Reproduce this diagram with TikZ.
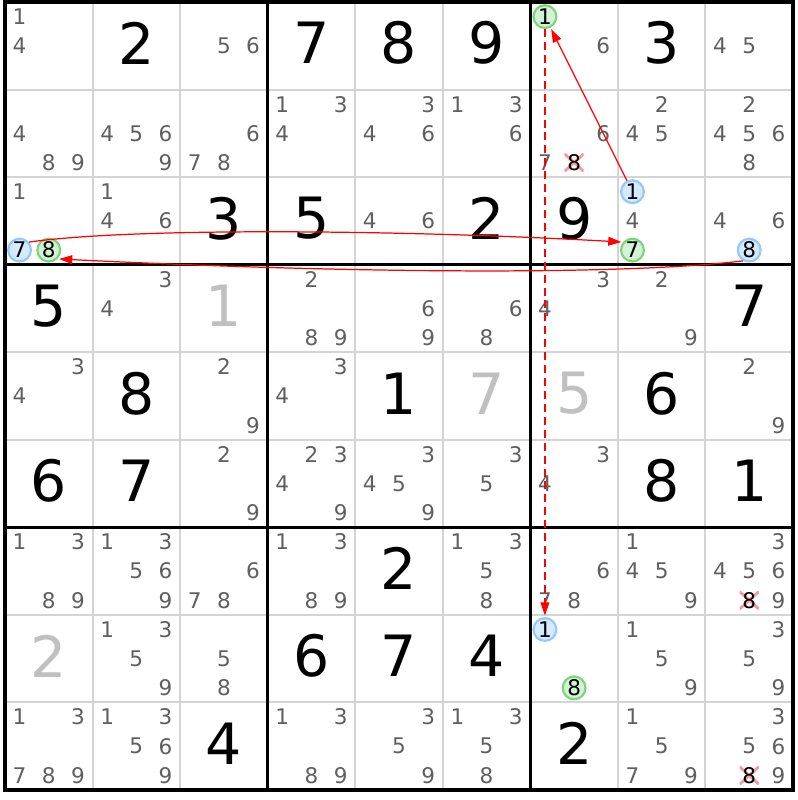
\documentclass[tikz,border=0pt]{standalone}
\usepackage{fontspec}
\setmainfont{DejaVu Sans}
\usetikzlibrary{arrows.meta}
\definecolor{candgray}{RGB}{95,95,95}
\definecolor{solvedgray}{RGB}{192,192,192}
\definecolor{thingrid}{RGB}{212,212,212}
\definecolor{onfill}{RGB}{214,234,255}
\definecolor{ondraw}{RGB}{150,200,250}
\definecolor{offfill}{RGB}{212,242,212}
\definecolor{offdraw}{RGB}{125,212,125}
\definecolor{elimred}{RGB}{250,150,160}
\tikzset{
	>={Triangle[length=1.5mm,width=1mm]}
}

% one candidate digit at its place in cell (row,col)
\newcommand{\sdcand}[4][cand]{%
	\pgfmathsetmacro\cx{#3-1+(mod(#4-1,3)+0.5)/3}%
	\pgfmathsetmacro\cy{-(#2-1)-(floor((#4-1)/3)+0.5)/3}%
	\node[#1] (n#2#3#4) at (\cx,\cy) {#4};}
\newcommand{\sdcands}[3]{\foreach \d in {#3}{\sdcand{#1}{#2}{\d}}}
% big digit of a cell
\newcommand{\sdgiven}[4][given]{%
	\node[#1] (g#2#3) at ({#3-0.5},{-#2+0.53}) {#4};}

\begin{document}
\begin{tikzpicture}[
	cand/.style = {
		inner sep = 0pt,
		text = candgray,
		font = \fontsize{7}{8}\selectfont
	},
	given/.style = {
		inner sep = 0pt,
		text = black,
		font = \fontsize{18.5}{20}\selectfont
	},
	solved/.style = {
		given,
		text = solvedgray
	},
	oncand/.style = {
		cand,
		circle,
		text = black,
		draw = ondraw,
		fill = onfill,
		line width = 0.7pt,
		minimum size = 0.26cm
	},
	offcand/.style = {
		oncand,
		draw = offdraw,
		fill = offfill
	},
	elim/.style = {
		cand,
		text = black,
		minimum width = 0.22cm,
		minimum height = 0.2cm,
		path picture = {
			\draw[elimred, line width = 0.9pt]
				(path picture bounding box.north west) -- (path picture bounding box.south east)
				(path picture bounding box.south west) -- (path picture bounding box.north east);
		}
	},
	thinline/.style = {
		draw = thingrid,
		line width = 0.65pt
	},
	boxline/.style = {
		draw = black,
		line width = 1pt
	},
	link/.style = {
		->,
		red,
		line width = 0.4pt,
		shorten > = 0.5pt
	}
	]
	
	\fill[white] (-0.057,0.023) rectangle (9.057,-9.114);
	\useasboundingbox (-0.057,0.023) rectangle (9.057,-9.114);
	
	% grid
	\foreach \i in {1,2,4,5,7,8} {
		\draw[thinline] (\i,0) -- (\i,-9);
		\draw[thinline] (0,-\i) -- (9,-\i);
	}
	\foreach \i in {3,6} {
		\draw[boxline] (\i,0) -- (\i,-9);
		\draw[boxline] (0,-\i) -- (9,-\i);
	}
	\draw[boxline] (0,0) rectangle (9,-9);
	
	% row 1
	\sdcands{1}{1}{1,4}
	\sdgiven{1}{2}{2}
	\sdcands{1}{3}{5,6}
	\sdgiven{1}{4}{7}
	\sdgiven{1}{5}{8}
	\sdgiven{1}{6}{9}
	\sdcand[offcand]{1}{7}{1}
	\sdcands{1}{7}{6}
	\sdgiven{1}{8}{3}
	\sdcands{1}{9}{4,5}
	
	% row 2
	\sdcands{2}{1}{4,8,9}
	\sdcands{2}{2}{4,5,6,9}
	\sdcands{2}{3}{6,7,8}
	\sdcands{2}{4}{1,3,4}
	\sdcands{2}{5}{3,4,6}
	\sdcands{2}{6}{1,3,6}
	\sdcands{2}{7}{6,7}
	\sdcand[elim]{2}{7}{8}
	\sdcands{2}{8}{2,4,5}
	\sdcands{2}{9}{2,4,5,6,8}
	
	% row 3
	\sdcands{3}{1}{1}
	\sdcand[oncand]{3}{1}{7}
	\sdcand[offcand]{3}{1}{8}
	\sdcands{3}{2}{1,4,6}
	\sdgiven{3}{3}{3}
	\sdgiven{3}{4}{5}
	\sdcands{3}{5}{4,6}
	\sdgiven{3}{6}{2}
	\sdgiven{3}{7}{9}
	\sdcand[oncand]{3}{8}{1}
	\sdcands{3}{8}{4}
	\sdcand[offcand]{3}{8}{7}
	\sdcands{3}{9}{4,6}
	\sdcand[oncand]{3}{9}{8}
	
	% row 4
	\sdgiven{4}{1}{5}
	\sdcands{4}{2}{3,4}
	\sdgiven[solved]{4}{3}{1}
	\sdcands{4}{4}{2,8,9}
	\sdcands{4}{5}{6,9}
	\sdcands{4}{6}{6,8}
	\sdcands{4}{7}{3,4}
	\sdcands{4}{8}{2,9}
	\sdgiven{4}{9}{7}
	
	% row 5
	\sdcands{5}{1}{3,4}
	\sdgiven{5}{2}{8}
	\sdcands{5}{3}{2,9}
	\sdcands{5}{4}{3,4}
	\sdgiven{5}{5}{1}
	\sdgiven[solved]{5}{6}{7}
	\sdgiven[solved]{5}{7}{5}
	\sdgiven{5}{8}{6}
	\sdcands{5}{9}{2,9}
	
	% row 6
	\sdgiven{6}{1}{6}
	\sdgiven{6}{2}{7}
	\sdcands{6}{3}{2,9}
	\sdcands{6}{4}{2,3,4,9}
	\sdcands{6}{5}{3,4,5,9}
	\sdcands{6}{6}{3,5}
	\sdcands{6}{7}{3,4}
	\sdgiven{6}{8}{8}
	\sdgiven{6}{9}{1}
	
	% row 7
	\sdcands{7}{1}{1,3,8,9}
	\sdcands{7}{2}{1,3,5,6,9}
	\sdcands{7}{3}{6,7,8}
	\sdcands{7}{4}{1,3,8,9}
	\sdgiven{7}{5}{2}
	\sdcands{7}{6}{1,3,5,8}
	\sdcands{7}{7}{6,7,8}
	\sdcands{7}{8}{1,4,5,9}
	\sdcands{7}{9}{3,4,5,6,9}
	\sdcand[elim]{7}{9}{8}
	
	% row 8
	\sdgiven[solved]{8}{1}{2}
	\sdcands{8}{2}{1,3,5,9}
	\sdcands{8}{3}{5,8}
	\sdgiven{8}{4}{6}
	\sdgiven{8}{5}{7}
	\sdgiven{8}{6}{4}
	\sdcand[oncand]{8}{7}{1}
	\sdcand[offcand]{8}{7}{8}
	\sdcands{8}{8}{1,5,9}
	\sdcands{8}{9}{3,5,9}
	
	% row 9
	\sdcands{9}{1}{1,3,7,8,9}
	\sdcands{9}{2}{1,3,5,6,9}
	\sdgiven{9}{3}{4}
	\sdcands{9}{4}{1,3,8,9}
	\sdcands{9}{5}{3,5,9}
	\sdcands{9}{6}{1,3,5,8}
	\sdgiven{9}{7}{2}
	\sdcands{9}{8}{1,5,7,9}
	\sdcands{9}{9}{3,5,6,9}
	\sdcand[elim]{9}{9}{8}
	
	% chain
	\draw[link] (n317.40) .. controls +(1.2,0.17) and +(-2.5,0.14) .. (n387.140);
	\draw[link] (n381) -- (n171);
	\draw[link, dash pattern = on 2.6pt off 1.6pt] (n171) -- (n871);
	\draw[link] (n398.-120) .. controls +(-1.5,-0.18) and +(3,-0.15) .. (n318.-45);
	
\end{tikzpicture}
\end{document}
